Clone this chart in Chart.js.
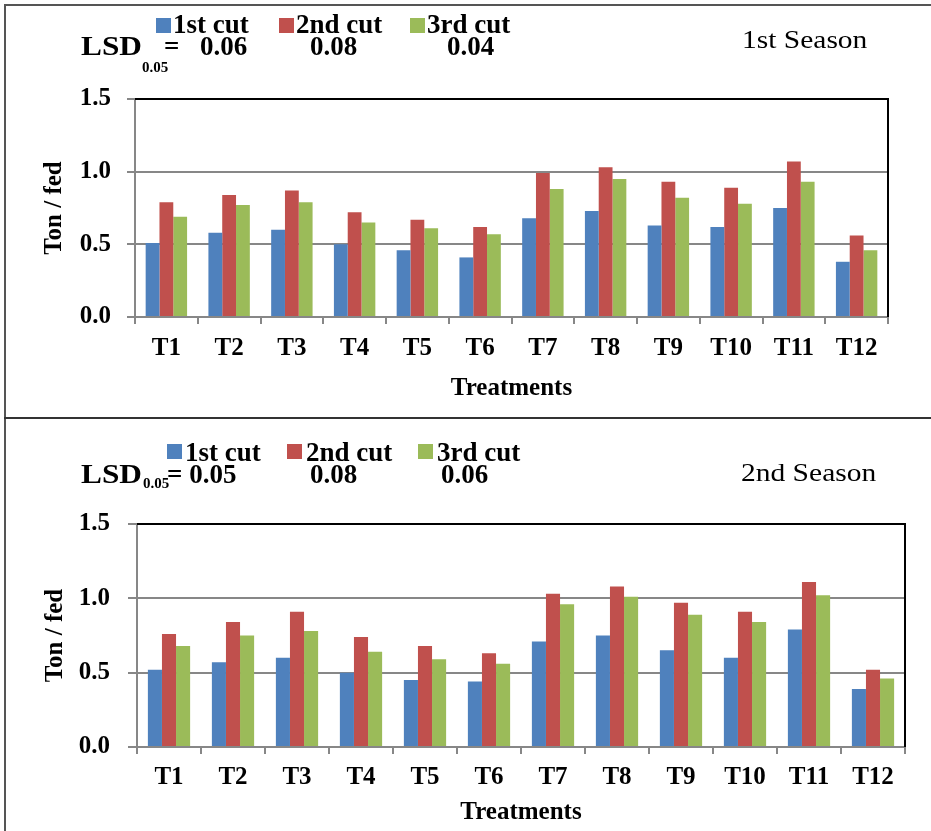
<!DOCTYPE html>
<html>
<head>
<meta charset="utf-8">
<script src="https://cdn.jsdelivr.net/npm/chart.js@4.4.0/dist/chart.umd.min.js"></script>
<style>
  html, body { margin: 0; padding: 0; background: #fff; }
  #page { position: relative; width: 931px; height: 831px; overflow: hidden; font-family: "Liberation Serif", "Times New Roman", serif; }
  canvas { position: absolute; left: 0; }
  .t { position: absolute; line-height: 1; white-space: nowrap; color: #000; }
  .b { font-weight: bold; font-size: 27px; }
  .lsd { transform: scaleX(1.16); transform-origin: left top; }
  .sub { font-weight: bold; font-size: 15px; }
  .season { font-size: 25px; transform: scaleX(1.18); transform-origin: left top; }
  .sq { position: absolute; width: 15px; height: 15px; }
  .line { position: absolute; background: #555; }
</style>
</head>
<body>
<div id="page">
  <!-- panel frames -->
  <div class="line" style="left:4px; top:4px; width:927px; height:2px;"></div>
  <div class="line" style="left:4px; top:4px; width:2px; height:827px;"></div>
  <div class="line" style="left:4px; top:417px; width:927px; height:2px; background:#333;"></div>

  <canvas id="season1" width="931" height="415" style="top:0px"></canvas>
  <canvas id="season2" width="931" height="413" style="top:418px"></canvas>

  <!-- 1st season header -->
  <div class="sq" style="left:156px; top:18px; background:#4F81BD"></div>
  <div class="t b" style="left:173px; top:11px">1st cut</div>
  <div class="sq" style="left:279px; top:18px; background:#C0504D"></div>
  <div class="t b" style="left:296px; top:11px">2nd cut</div>
  <div class="sq" style="left:410px; top:18px; background:#9BBB59"></div>
  <div class="t b" style="left:427px; top:11px">3rd cut</div>
  <div class="t b lsd" style="left:81px; top:33px">LSD</div>
  <div class="t sub" style="left:142px; top:60px">0.05</div>
  <div class="t b" style="left:164px; top:33px">=</div>
  <div class="t b" style="left:200px; top:33px">0.06</div>
  <div class="t b" style="left:310px; top:33px">0.08</div>
  <div class="t b" style="left:447px; top:33px">0.04</div>
  <div class="t season" style="left:742px; top:27px">1st Season</div>

  <!-- 2nd season header -->
  <div class="sq" style="left:167px; top:444px; background:#4F81BD"></div>
  <div class="t b" style="left:185px; top:439px">1st cut</div>
  <div class="sq" style="left:287px; top:444px; background:#C0504D"></div>
  <div class="t b" style="left:306px; top:439px">2nd cut</div>
  <div class="sq" style="left:418px; top:444px; background:#9BBB59"></div>
  <div class="t b" style="left:437px; top:439px">3rd cut</div>
  <div class="t b lsd" style="left:81px; top:461px">LSD</div>
  <div class="t sub" style="left:143px; top:476px">0.05</div>
  <div class="t b" style="left:167px; top:461px">= 0.05</div>
  <div class="t b" style="left:310px; top:461px">0.08</div>
  <div class="t b" style="left:441px; top:461px">0.06</div>
  <div class="t season" style="left:741px; top:460px">2nd Season</div>
</div>
<script>
// treatments on the x axis
const treatments = ['T1', 'T2', 'T3', 'T4', 'T5', 'T6', 'T7', 'T8', 'T9', 'T10', 'T11', 'T12'];
const cutNames = ['1st cut', '2nd cut', '3rd cut'];

// 1st season, Ton / fed
const s1Cut1 = [0.51, 0.58, 0.60, 0.50, 0.46, 0.41, 0.68, 0.73, 0.63, 0.62, 0.75, 0.38];
const s1Cut2 = [0.79, 0.84, 0.87, 0.72, 0.67, 0.62, 0.99, 1.03, 0.93, 0.89, 1.07, 0.56];
const s1Cut3 = [0.69, 0.77, 0.79, 0.65, 0.61, 0.57, 0.88, 0.95, 0.82, 0.78, 0.93, 0.46];

// 2nd season, Ton / fed
const s2Cut1 = [0.52, 0.57, 0.60, 0.50, 0.45, 0.44, 0.71, 0.75, 0.65, 0.60, 0.79, 0.39];
const s2Cut2 = [0.76, 0.84, 0.91, 0.74, 0.68, 0.63, 1.03, 1.08, 0.97, 0.91, 1.11, 0.52];
const s2Cut3 = [0.68, 0.75, 0.78, 0.64, 0.59, 0.56, 0.96, 1.01, 0.89, 0.84, 1.02, 0.46];

const yMax = 1.5;
const yStep = 0.5;

const colors = ['#4F81BD', '#C0504D', '#9BBB59'];
const axisGray = '#878787';
const serif = '"Liberation Serif", "Times New Roman", serif';

// black top and right edge of the plot area
const frameLines = {
    id: 'frameLines',
    afterDatasetsDraw(chart) {
        const { ctx, chartArea: a } = chart;
        ctx.save();
        ctx.strokeStyle = '#000';
        ctx.lineWidth = 2;
        ctx.beginPath();
        ctx.moveTo(a.left, a.top);
        ctx.lineTo(a.right, a.top);
        ctx.lineTo(a.right, a.bottom);
        ctx.stroke();
        ctx.restore();
    }
};

function makeChart(id, series, g) {
    return new Chart(document.getElementById(id), {
        type: 'bar',
        data: {
            labels: treatments,
            datasets: series.map((values, i) => ({
                label: cutNames[i],
                data: values,
                backgroundColor: colors[i],
                borderWidth: 0,
                categoryPercentage: 0.66,
                barPercentage: 1
            }))
        },
        options: {
            responsive: false,
            animation: false,
            devicePixelRatio: 1,
            layout: { padding: { top: g.top, right: g.right, left: 0, bottom: 0 } },
            plugins: { legend: { display: false }, tooltip: { enabled: false } },
            scales: {
                x: {
                    afterFit: (scale) => { scale.height = g.xHeight; },
                    grid: { drawOnChartArea: false, drawTicks: true, tickLength: 7, color: axisGray, lineWidth: 2, offset: true },
                    border: { color: axisGray, width: 2 },
                    ticks: { color: '#000', padding: g.xPad, font: { family: serif, size: 25, weight: 'bold' } },
                    title: {
                        display: true,
                        text: 'Treatments',
                        color: '#000',
                        padding: { top: 0, bottom: g.titlePad },
                        font: { family: serif, size: 25, weight: 'bold' }
                    }
                },
                y: {
                    min: 0,
                    max: yMax,
                    afterFit: (scale) => { scale.width = g.yWidth; },
                    grid: { color: axisGray, lineWidth: 2, tickLength: g.yTick },
                    border: { color: axisGray, width: 2 },
                    ticks: {
                        stepSize: yStep,
                        color: '#000',
                        padding: g.yPad,
                        font: { family: serif, size: 25, weight: 'bold' },
                        callback: (v) => v.toFixed(1)
                    },
                    title: {
                        display: true,
                        text: 'Ton / fed',
                        color: '#000',
                        padding: { top: g.yTitlePad, bottom: 0 },
                        font: { family: serif, size: 25, weight: 'bold' }
                    }
                }
            }
        },
        plugins: [frameLines]
    });
}

makeChart('season1', [s1Cut1, s1Cut2, s1Cut3],
    { top: 99, right: 43, yWidth: 135, xHeight: 98, xPad: 10, titlePad: 11, yTick: 8, yPad: 16, yTitlePad: 40 });
makeChart('season2', [s2Cut1, s2Cut2, s2Cut3],
    { top: 106, right: 26, yWidth: 137, xHeight: 84, xPad: 9, titlePad: 3, yTick: 9, yPad: 18, yTitlePad: 41 });
</script>
</body>
</html>
